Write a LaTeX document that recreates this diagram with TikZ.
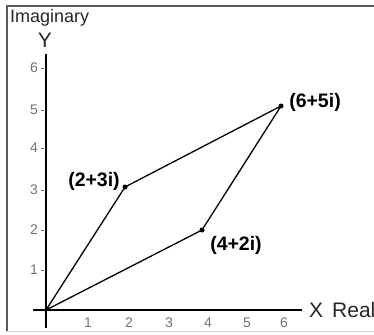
\documentclass[tikz,border=0pt]{standalone}
\usepackage{fontspec}
\setmainfont{Liberation Sans}
\begin{document}
\begin{tikzpicture}[x=1pt,y=-1pt,
  axis/.style={line width=2pt,black},
  edge/.style={line width=1.3pt,black},
  dot/.style={circle,fill=black,inner sep=0pt,minimum size=5pt},
  ptlabel/.style={font=\fontsize{19.5}{22}\selectfont\bfseries,inner sep=0pt},
  ticklab/.style={font=\fontsize{14}{16}\selectfont,text=black!55,inner sep=0pt},
  axlab/.style={font=\fontsize{21}{24}\selectfont,inner sep=0pt,text=black!85},
  tickmark/.style={line width=0.7pt,black!55}]
\useasboundingbox (0,0) rectangle (374,334);
\fill[white] (0,0) rectangle (374,334);
% frame
\draw[line width=1.5pt,black!65] (374,6) -- (7,6) -- (7,331);
\draw[line width=0.8pt,black!15] (7,331) -- (374,331);
% axes
\coordinate (xs) at (33,310);
\coordinate (xe) at (302,310);
\coordinate (ys) at (46,54);
\coordinate (ye) at (46,328);
\draw[axis] (xs) -- (xe);
\draw[axis] (ys) -- (ye);
% axis labels
\node[font=\fontsize{18}{20}\selectfont,text=black!85,inner sep=0pt,anchor=west] (imag) at (10,18) {Imaginary};
\node[axlab] (ylab) at (45,40) {Y};
\node[axlab,anchor=west] (xlab) at (309,310) {X};
\node[axlab,anchor=west] (rlab) at (332,310) {Real};
% tick labels
\foreach \i/\x in {1/88,2/129,3/169,4/208,5/247,6/284}
  \node[ticklab] (tx\i) at (\x,323) {\i};
\foreach \i/\y in {1/270,2/230,3/190,4/148,5/110,6/68}{
  \node[ticklab] (ty\i) at (34,\y) {\i};
  \draw[tickmark] (41,\y) -- (44,\y);
}
% points
\coordinate (O) at (46,310);
\coordinate (A) at (125,187);
\coordinate (B) at (281,106);
\coordinate (C) at (202,230);
\draw[edge,line join=round] (O) -- (A) -- (B) -- (C) -- cycle;
\node[dot] (dA) at (A) {};
\node[dot] (dB) at (B) {};
\node[dot] (dC) at (C) {};
\node[ptlabel] (lA) at (94,181) {(2+3i)};
\node[ptlabel] (lB) at (315,102) {(6+5i)};
\node[ptlabel] (lC) at (236,245) {(4+2i)};
\end{tikzpicture}
\end{document}
